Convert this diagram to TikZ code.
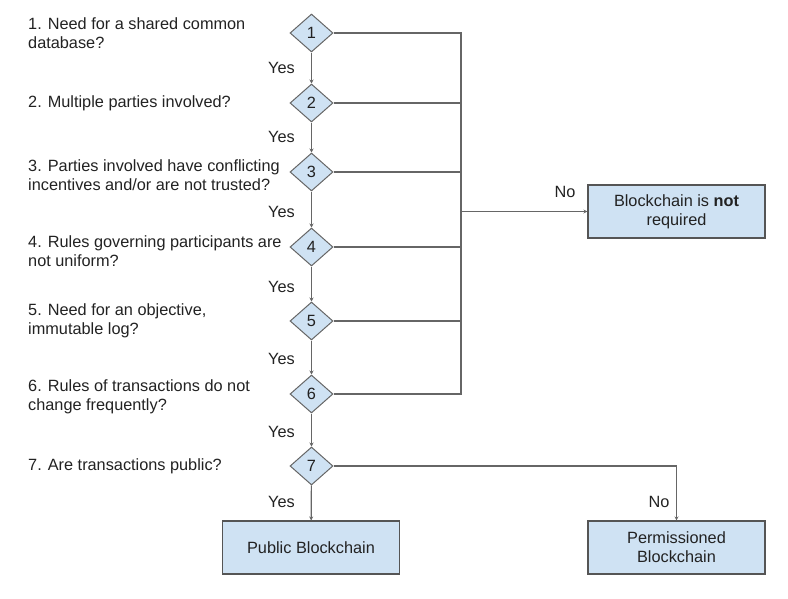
\documentclass[tikz,border=0pt]{standalone}
\usepackage{fontspec}
\setmainfont{Liberation Sans}
\usetikzlibrary{shapes.geometric,arrows.meta}
\definecolor{boxfill}{HTML}{CFE2F3}
\definecolor{boxline}{HTML}{555555}
\definecolor{conncol}{HTML}{666666}
\definecolor{txt}{HTML}{222222}
\begin{document}
\begin{tikzpicture}[x=1pt,y=-1pt,
  every node/.style={font=\fontsize{16.3}{19}\selectfont, text=txt},
  question/.style={anchor=west, align=left, inner sep=0pt},
  dec/.style={diamond, draw=conncol, fill=boxfill, line width=1pt, minimum width=43pt, minimum height=38pt, inner sep=0pt},
  endbox/.style={rectangle, draw=boxline, fill=boxfill, line width=1.1pt, minimum width=177pt, minimum height=53pt, align=center, inner sep=0pt},
  conn/.style={draw=conncol, line width=1.2pt},
  arr/.style={conn, -{Stealth[length=4pt,width=4pt]}},
  lbl/.style={inner sep=0pt}
]
\useasboundingbox (0,0) rectangle (788,598);

% questions
\node[question] (q1) at (28,33.5) {1. Need for a shared common\\database?};
\node[question] (q2) at (28,103) {2. Multiple parties involved?};
\node[question] (q3) at (28,175) {3. Parties involved have conflicting\\incentives and/or are not trusted?};
\node[question] (q4) at (28,251) {4. Rules governing participants are\\not uniform?};
\node[question] (q5) at (28,321) {5. Need for an objective,\\immutable log?};
\node[question] (q6) at (28,397) {6. Rules of transactions do not\\change frequently?};
\node[question] (q7) at (28,466) {7. Are transactions public?};

% decisions
\node[dec] (d1) at (311.5,33) {1};
\node[dec] (d2) at (311.5,103) {2};
\node[dec] (d3) at (311.5,172) {3};
\node[dec] (d4) at (311.5,247) {4};
\node[dec] (d5) at (311.5,321) {5};
\node[dec] (d6) at (311.5,394) {6};
\node[dec] (d7) at (311.5,466) {7};

% outcome boxes
\node[endbox] (notreq) at (676.5,211.5) {Blockchain is \textbf{not}\\required};
\node[endbox] (pub) at (311,547.5) {Public Blockchain};
\node[endbox] (perm) at (676.5,547.5) {Permissioned\\Blockchain};

% yes connectors
\draw[arr] (d1) -- (d2);
\draw[arr] (d2) -- (d3);
\draw[arr] (d3) -- (d4);
\draw[arr] (d4) -- (d5);
\draw[arr] (d5) -- (d6);
\draw[arr] (d6) -- (d7);
\draw[arr] (d7) -- (pub);

% yes labels
\node[lbl, anchor=east] (y1) at (295,68) {Yes};
\node[lbl, anchor=east] (y2) at (295,137) {Yes};
\node[lbl, anchor=east] (y3) at (295,212) {Yes};
\node[lbl, anchor=east] (y4) at (295,287) {Yes};
\node[lbl, anchor=east] (y5) at (295,359) {Yes};
\node[lbl, anchor=east] (y6) at (295,432) {Yes};
\node[lbl, anchor=east] (y7) at (295,502) {Yes};

% no bus
\coordinate (bustop) at (461,33);
\coordinate (busbot) at (461,394);
\coordinate (busmid) at (461,211.5);
\draw[conn] (d1.east) -- (bustop) -- (busbot) -- (d6.east);
\draw[conn] (d2.east) -- (d2.east -| bustop);
\draw[conn] (d3.east) -- (d3.east -| bustop);
\draw[conn] (d4.east) -- (d4.east -| bustop);
\draw[conn] (d5.east) -- (d5.east -| bustop);
\draw[arr] (busmid) -- (notreq.west);
\draw[arr] (d7.east) -| (perm.north);

% no labels
\node[lbl] (n1) at (565,192) {No};
\node[lbl] (n2) at (659,502) {No};
\end{tikzpicture}
\end{document}
